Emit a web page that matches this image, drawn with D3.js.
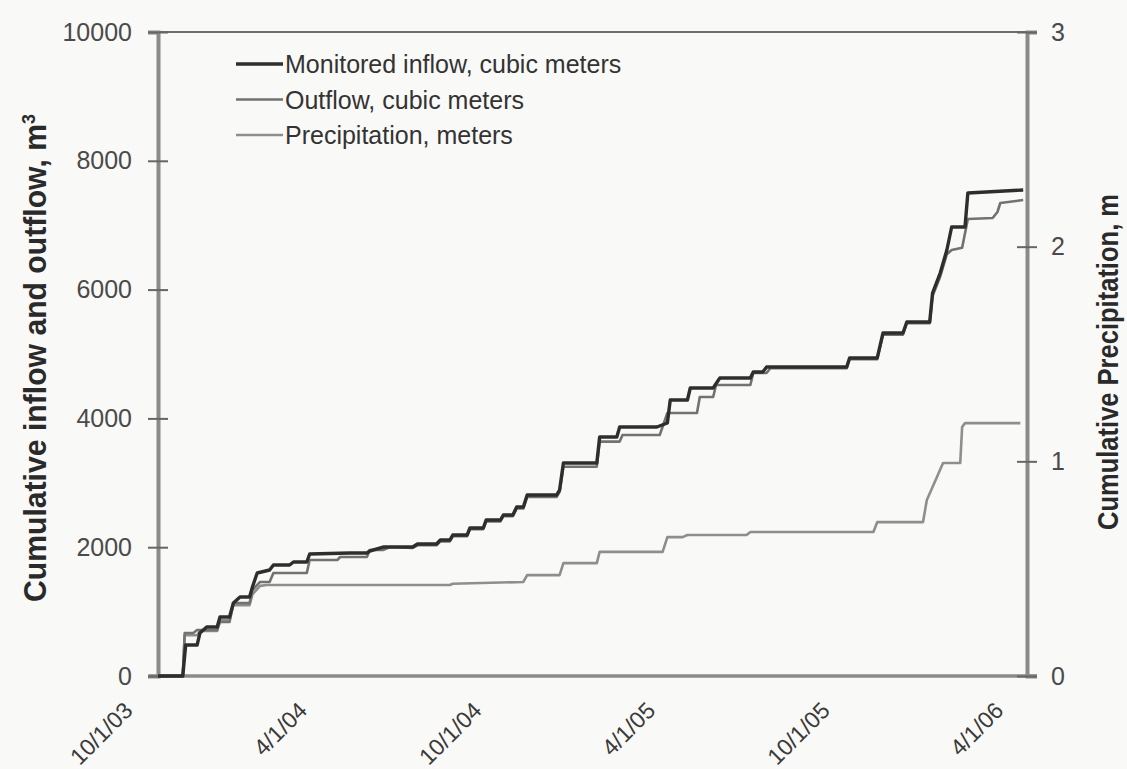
<!DOCTYPE html>
<html>
<head>
<meta charset="utf-8">
<script src="https://cdn.jsdelivr.net/npm/d3@7"></script>
<style>
  html, body { margin: 0; padding: 0; background: #f9f9f7; }
  svg { display: block; }
</style>
</head>
<body>
<svg id="chart" width="1127" height="769"></svg>
<script>
// cumulative series
const inflow = [
  ["2003-10-22", 0], ["2003-11-17", 0], ["2003-11-20", 481], ["2003-12-02", 481],
  ["2003-12-05", 668], ["2003-12-12", 761], ["2003-12-23", 761], ["2003-12-26", 916],
  ["2004-01-05", 916], ["2004-01-09", 1134], ["2004-01-16", 1227], ["2004-01-26", 1227],
  ["2004-01-29", 1382], ["2004-02-03", 1599], ["2004-02-16", 1646], ["2004-02-20", 1724],
  ["2004-03-08", 1724], ["2004-03-12", 1770], ["2004-03-26", 1770], ["2004-03-29", 1894],
  ["2004-05-10", 1910], ["2004-05-28", 1910], ["2004-05-31", 1941], ["2004-06-14", 2003],
  ["2004-07-15", 2003], ["2004-07-20", 2050], ["2004-08-09", 2050], ["2004-08-13", 2112],
  ["2004-08-23", 2112], ["2004-08-26", 2189], ["2004-09-10", 2189], ["2004-09-13", 2298],
  ["2004-09-27", 2298], ["2004-09-30", 2422], ["2004-10-15", 2422], ["2004-10-18", 2500],
  ["2004-10-28", 2500], ["2004-11-01", 2624], ["2004-11-08", 2624], ["2004-11-12", 2811],
  ["2004-12-13", 2811], ["2004-12-16", 2888], ["2004-12-20", 3307], ["2005-01-24", 3307],
  ["2005-01-27", 3711], ["2005-02-14", 3711], ["2005-02-17", 3866], ["2005-03-28", 3866],
  ["2005-04-08", 3929], ["2005-04-11", 4286], ["2005-04-29", 4286], ["2005-05-02", 4472],
  ["2005-05-26", 4472], ["2005-06-02", 4627], ["2005-07-04", 4627], ["2005-07-07", 4720],
  ["2005-07-17", 4720], ["2005-07-21", 4798], ["2005-10-13", 4798], ["2005-10-16", 4938],
  ["2005-11-14", 4938], ["2005-11-20", 5326], ["2005-12-11", 5326], ["2005-12-15", 5497],
  ["2006-01-08", 5497], ["2006-01-11", 5947], ["2006-01-19", 6258], ["2006-01-26", 6615],
  ["2006-01-31", 6972], ["2006-02-14", 6972], ["2006-02-17", 7500], ["2006-04-16", 7547]
];

const outflow = [
  ["2003-10-22", 0], ["2003-11-17", 0], ["2003-11-19", 668], ["2003-11-28", 668],
  ["2003-12-02", 714], ["2003-12-23", 714], ["2003-12-26", 838], ["2004-01-05", 838],
  ["2004-01-09", 1134], ["2004-01-26", 1134], ["2004-01-29", 1335], ["2004-02-06", 1460],
  ["2004-02-16", 1460], ["2004-02-20", 1599], ["2004-03-26", 1599], ["2004-03-29", 1801],
  ["2004-04-27", 1801], ["2004-04-30", 1848], ["2004-05-28", 1848], ["2004-05-31", 1957],
  ["2004-06-14", 1957], ["2004-06-21", 2003], ["2004-07-15", 1990], ["2004-07-20", 2030],
  ["2004-08-09", 2030], ["2004-08-13", 2090], ["2004-08-23", 2090], ["2004-08-26", 2170],
  ["2004-09-10", 2170], ["2004-09-13", 2280], ["2004-09-27", 2280], ["2004-09-30", 2400],
  ["2004-10-15", 2400], ["2004-10-18", 2480], ["2004-10-28", 2480], ["2004-11-01", 2600],
  ["2004-11-08", 2600], ["2004-11-12", 2780], ["2004-12-13", 2780], ["2004-12-16", 2860],
  ["2004-12-20", 3250], ["2005-01-24", 3250], ["2005-01-27", 3640], ["2005-02-17", 3640],
  ["2005-02-20", 3742], ["2005-03-31", 3742], ["2005-04-08", 4084], ["2005-05-09", 4084],
  ["2005-05-12", 4332], ["2005-05-26", 4332], ["2005-05-29", 4519], ["2005-07-04", 4519],
  ["2005-07-07", 4705], ["2005-07-21", 4705], ["2005-07-25", 4780], ["2005-10-13", 4780],
  ["2005-10-16", 4920], ["2005-11-14", 4920], ["2005-11-20", 5300], ["2005-12-11", 5300],
  ["2005-12-15", 5480], ["2006-01-08", 5480], ["2006-01-11", 5900], ["2006-01-19", 6200],
  ["2006-01-26", 6550], ["2006-01-31", 6615], ["2006-02-11", 6650], ["2006-02-17", 7096],
  ["2006-03-15", 7112], ["2006-03-20", 7205], ["2006-03-23", 7345], ["2006-04-16", 7391]
];

const precipitation = [
  ["2003-10-22", 0], ["2003-11-17", 0], ["2003-11-19", 0.19], ["2003-12-02", 0.19],
  ["2003-12-05", 0.21], ["2003-12-23", 0.21], ["2003-12-26", 0.26], ["2004-01-05", 0.26],
  ["2004-01-09", 0.33], ["2004-01-26", 0.33], ["2004-01-29", 0.38], ["2004-02-06", 0.42],
  ["2004-02-13", 0.424], ["2004-08-23", 0.424], ["2004-08-26", 0.43], ["2004-11-08", 0.438],
  ["2004-11-12", 0.47], ["2004-12-16", 0.47], ["2004-12-20", 0.526], ["2005-01-24", 0.526],
  ["2005-01-27", 0.578], ["2005-04-03", 0.578], ["2005-04-08", 0.647], ["2005-04-24", 0.647],
  ["2005-04-29", 0.657], ["2005-06-30", 0.657], ["2005-07-04", 0.671], ["2005-11-10", 0.671],
  ["2005-11-14", 0.717], ["2006-01-01", 0.717], ["2006-01-05", 0.82], ["2006-01-11", 0.88],
  ["2006-01-22", 0.992], ["2006-02-09", 0.992], ["2006-02-11", 1.16], ["2006-02-14", 1.178],
  ["2006-04-13", 1.178]
];

const dateTicks = ["2003-10-01", "2004-04-01", "2004-10-01", "2005-04-01", "2005-10-01", "2006-04-01"];
const dateLabels = ["10/1/03", "4/1/04", "10/1/04", "4/1/05", "10/1/05", "4/1/06"];
const volumeTicks = [0, 2000, 4000, 6000, 8000, 10000];
const precipTicks = [0, 1, 2, 3];

const series = [
  { name: "Monitored inflow, cubic meters", data: inflow, axis: "left", color: "#2e2e2e", width: 3.4 },
  { name: "Outflow, cubic meters", data: outflow, axis: "left", color: "#727272", width: 2.6 },
  { name: "Precipitation, meters", data: precipitation, axis: "right", color: "#8e8e8e", width: 2.6 }
];

const parse = d3.utcParse("%Y-%m-%d");
const svg = d3.select("#chart");
const plotLeft = 158, plotRight = 1027, plotTop = 32, plotBottom = 676;

const x = d3.scaleUtc()
  .domain([parse("2003-10-22"), parse("2006-04-20")])
  .range([plotLeft, plotRight]);
const yLeft = d3.scaleLinear().domain([0, 10000]).range([plotBottom, plotTop]);
const yRight = d3.scaleLinear().domain([0, 3]).range([plotBottom, plotTop]);

const axisColor = "#8a8a8a";
const font = "'Liberation Sans', Arial, sans-serif";

// frame: top line + bottom line
svg.append("line")
  .attr("x1", plotLeft).attr("x2", plotRight)
  .attr("y1", plotTop).attr("y2", plotTop)
  .attr("stroke", "#6d6d6d").attr("stroke-width", 2);

svg.append("line")
  .attr("x1", plotLeft - 9).attr("x2", plotRight + 10)
  .attr("y1", plotBottom).attr("y2", plotBottom)
  .attr("stroke", axisColor).attr("stroke-width", 3.5);

// left axis
const gL = svg.append("g")
  .attr("transform", `translate(${plotLeft},0)`)
  .call(d3.axisLeft(yLeft).tickValues(volumeTicks).tickSize(10).tickPadding(16).tickFormat(d3.format("d")));
gL.select(".domain").attr("stroke", axisColor).attr("stroke-width", 4);
gL.selectAll(".tick line").attr("x2", -10).attr("x1", 10).attr("stroke", "#666").attr("stroke-width", 2);
gL.selectAll(".tick text")
  .attr("font-family", font).attr("font-size", 25).attr("fill", "#4a4a4a");

// right axis
const gR = svg.append("g")
  .attr("transform", `translate(${plotRight},0)`)
  .call(d3.axisRight(yRight).tickValues(precipTicks).tickSize(10).tickPadding(14).tickFormat(d3.format("d")));
gR.select(".domain").attr("stroke", axisColor).attr("stroke-width", 4);
gR.selectAll(".tick line").attr("x1", -10).attr("x2", 10).attr("stroke", "#666").attr("stroke-width", 2);
gR.selectAll(".tick text")
  .attr("font-family", font).attr("font-size", 25).attr("fill", "#4a4a4a");

// date labels, rotated
svg.append("g").selectAll("text")
  .data(dateTicks)
  .join("text")
  .attr("transform", d => `translate(${x(parse(d)) - 4},${plotBottom + 36}) rotate(-45)`)
  .attr("text-anchor", "end")
  .attr("font-family", font)
  .attr("font-size", 23)
  .attr("fill", "#3a3a3a")
  .text((d, i) => dateLabels[i]);

// lines
const lineLeft = d3.line().x(d => x(parse(d[0]))).y(d => yLeft(d[1]));
const lineRight = d3.line().x(d => x(parse(d[0]))).y(d => yRight(d[1]));

svg.append("g").selectAll("path")
  .data(series.slice().reverse())
  .join("path")
  .attr("d", s => (s.axis === "left" ? lineLeft : lineRight)(s.data))
  .attr("fill", "none")
  .attr("stroke", s => s.color)
  .attr("stroke-width", s => s.width)
  .attr("stroke-linejoin", "round");

// legend
const legend = svg.append("g").attr("transform", "translate(236,64)");
const item = legend.selectAll("g")
  .data(series)
  .join("g")
  .attr("transform", (d, i) => `translate(0,${i * 35.5})`);
item.append("line")
  .attr("x1", 0).attr("x2", 47)
  .attr("stroke", d => d.color)
  .attr("stroke-width", d => d.width);
item.append("text")
  .attr("x", 49).attr("y", 9)
  .attr("font-family", font).attr("font-size", 25)
  .attr("fill", "#333")
  .text(d => d.name);

// axis titles (condensed bold look)
const leftTitle = svg.append("text")
  .attr("transform", `translate(46,358) rotate(-90)`)
  .attr("text-anchor", "middle")
  .attr("font-family", font)
  .attr("font-weight", "bold")
  .attr("font-size", 31)
  .attr("fill", "#2a2a2a");
leftTitle.append("tspan")
  .attr("textLength", 478).attr("lengthAdjust", "spacingAndGlyphs")
  .text("Cumulative inflow and outflow, m");
leftTitle.append("tspan").attr("dy", -11).attr("font-size", 18).text("3");

svg.append("text")
  .attr("transform", `translate(1118,362) rotate(-90)`)
  .attr("text-anchor", "middle")
  .attr("font-family", font)
  .attr("font-weight", "bold")
  .attr("font-size", 30)
  .attr("fill", "#2a2a2a")
  .attr("textLength", 336).attr("lengthAdjust", "spacingAndGlyphs")
  .text("Cumulative Precipitation, m");
</script>
</body>
</html>
